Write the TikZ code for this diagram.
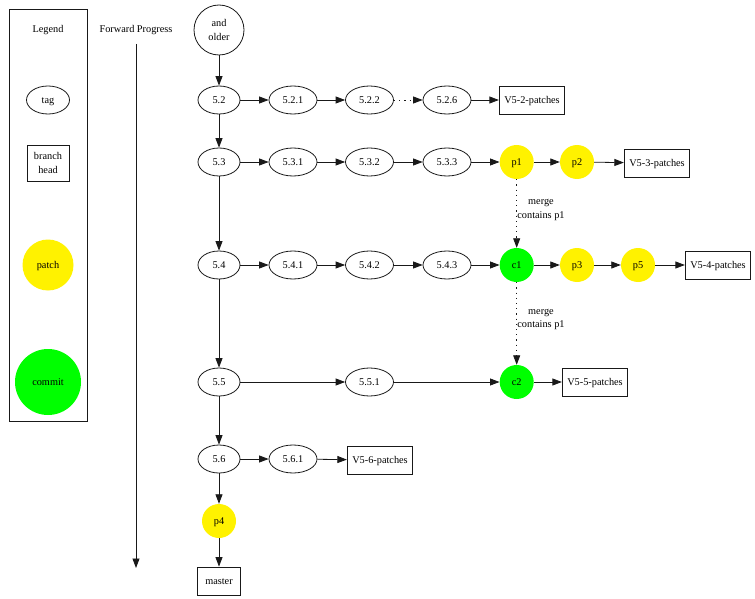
\documentclass[tikz,border=0pt]{standalone}
\usepackage{fontspec}
\setmainfont{Liberation Serif}
\usetikzlibrary{shapes.geometric,arrows.meta}
\begin{document}
\begin{tikzpicture}[x=1pt,y=-1pt,
  every node/.style={font=\fontsize{10.3}{13.5}\selectfont, text=black},
  oneline/.style={text height=7.2pt, text depth=0pt},
  line/.style={draw=black!90, line width=0.8pt},
  tagnode/.style={line, oneline, ellipse, minimum width=42pt, minimum height=28pt, inner sep=0pt},
  subtag/.style={tagnode, minimum width=48pt},
  headbox/.style={line, oneline, rectangle, minimum height=28pt, inner xsep=5pt, inner ysep=0pt},
  patchnode/.style={oneline, circle, fill=yellow, minimum size=34pt, inner sep=0pt},
  commitnode/.style={oneline, circle, fill=green, minimum size=34pt, inner sep=0pt},
  edge/.style={line, -{Triangle[length=9.5pt,width=7pt]}},
  dotedge/.style={edge, dash pattern=on 1.2pt off 4pt},
  lbl/.style={align=center, inner sep=0pt}
]
\useasboundingbox (0,0) rectangle (755,599);

% Legend
\node[line, rectangle, minimum width=78pt, minimum height=412pt, inner sep=0pt] (legendbox) at (48,215) {};
\node[oneline] (legendtitle) at (48,29) {Legend};
\node[tagnode, minimum width=43pt] (ltag) at (48,100) {tag};
\node[line, rectangle, minimum width=42pt, minimum height=36pt, inner sep=0pt, align=center] (lhead) at (48,163) {branch\\head};
\node[oneline, circle, fill=yellow, minimum size=51pt, inner sep=0pt] (lpatch) at (48,265) {patch};
\node[oneline, circle, fill=green, minimum size=66pt, inner sep=0pt] (lcommit) at (48,382) {commit};

% Forward progress
\node[oneline] (fwd) at (136,29) {Forward Progress};
\coordinate (fwdtop) at (136,44);
\coordinate (fwdbot) at (136,568);
\draw[edge] (fwdtop) -- (fwdbot);

% main column
\node[line, circle, minimum size=50pt, inner sep=0pt, align=center] (older) at (219,30) {and\\older};
\node[tagnode] (v52) at (219,100) {5.2};
\node[tagnode] (v53) at (219,162) {5.3};
\node[tagnode] (v54) at (219,265) {5.4};
\node[tagnode] (v55) at (219,382) {5.5};
\node[tagnode] (v56) at (219,459) {5.6};
\node[patchnode] (p4) at (219,521) {p4};
\node[headbox, minimum width=43pt] (master) at (219,581) {master};

% row 5.2
\node[subtag] (v521) at (293,100) {5.2.1};
\node[subtag] (v522) at (369.5,100) {5.2.2};
\node[subtag] (v526) at (447,100) {5.2.6};
\node[headbox] (h52) at (532,100) {V5-2-patches};

% row 5.3
\node[subtag] (v531) at (293,162) {5.3.1};
\node[subtag] (v532) at (369.5,162) {5.3.2};
\node[subtag] (v533) at (447,162) {5.3.3};
\node[patchnode] (p1) at (516.7,162) {p1};
\node[patchnode] (p2) at (577,162) {p2};
\node[headbox] (h53) at (657,163) {V5-3-patches};

% row 5.4
\node[subtag] (v541) at (293,265) {5.4.1};
\node[subtag] (v542) at (369.5,265) {5.4.2};
\node[subtag] (v543) at (447,265) {5.4.3};
\node[commitnode] (c1) at (516.7,265) {c1};
\node[patchnode] (p3) at (577,265) {p3};
\node[patchnode] (p5) at (638,265) {p5};
\node[headbox] (h54) at (718,265) {V5-4-patches};

% row 5.5
\node[subtag] (v551) at (369.5,382) {5.5.1};
\node[commitnode] (c2) at (516.7,382) {c2};
\node[headbox] (h55) at (595,382) {V5-5-patches};

% row 5.6
\node[subtag] (v561) at (293,459) {5.6.1};
\node[headbox] (h56) at (380,460) {V5-6-patches};

% vertical edges
\draw[edge] (older) -- (v52);
\draw[edge] (v52) -- (v53);
\draw[edge] (v53) -- (v54);
\draw[edge] (v54) -- (v55);
\draw[edge] (v55) -- (v56);
\draw[edge] (v56) -- (p4);
\draw[edge] (p4) -- (master);

% horizontal edges
\draw[edge] (v52) -- (v521);
\draw[edge] (v521) -- (v522);
\draw[dotedge] (v522) -- (v526);
\draw[edge] (v526) -- (h52);

\draw[edge] (v53) -- (v531);
\draw[edge] (v531) -- (v532);
\draw[edge] (v532) -- (v533);
\draw[edge] (v533) -- (p1);
\draw[edge] (p1) -- (p2);
\draw[edge] (p2) -- (h53);

\draw[edge] (v54) -- (v541);
\draw[edge] (v541) -- (v542);
\draw[edge] (v542) -- (v543);
\draw[edge] (v543) -- (c1);
\draw[edge] (c1) -- (p3);
\draw[edge] (p3) -- (p5);
\draw[edge] (p5) -- (h54);

\draw[edge] (v55) -- (v551);
\draw[edge] (v551) -- (c2);
\draw[edge] (c2) -- (h55);

\draw[edge] (v56) -- (v561);
\draw[edge] (v561) -- (h56);

% merges
\draw[dotedge] (p1) -- (c1);
\node[lbl] (m1) at (541,210) {merge\\contains p1};
\draw[dotedge] (c1) -- (c2);
\node[lbl] (m2) at (541,319.5) {merge\\contains p1};
\end{tikzpicture}
\end{document}
